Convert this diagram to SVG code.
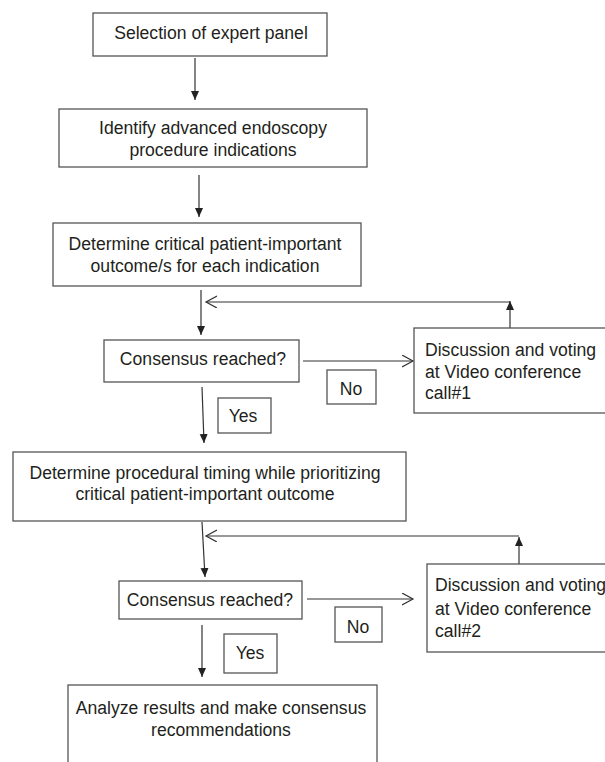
<svg xmlns="http://www.w3.org/2000/svg" width="605" height="762" viewBox="0 0 605 762">
<style>
.box{fill:#fff;stroke:#555;stroke-width:1.3}
.t{font-family:"Liberation Sans",Arial,sans-serif;font-size:17.6px;fill:#231f20}
.m{text-anchor:middle}
.ln{fill:none;stroke:#333;stroke-width:1.2}
</style>
<defs>
<marker id="fa" markerUnits="userSpaceOnUse" markerWidth="10" markerHeight="10" refX="9" refY="4" orient="auto"><path d="M0,0 L9,4 L0,8 z" fill="#222"/></marker>
<marker id="oa" markerUnits="userSpaceOnUse" markerWidth="14" markerHeight="14" refX="11" refY="6" orient="auto"><path d="M0,0 L11,6 L0,12" fill="none" stroke="#333" stroke-width="1.2"/></marker>
</defs>
<rect width="605" height="762" fill="#fff"/>
<g id="connectors">
<line class="ln" x1="195" y1="58" x2="195" y2="100" marker-end="url(#fa)"/>
<line class="ln" x1="199" y1="175" x2="199" y2="217" marker-end="url(#fa)"/>
<line class="ln" x1="201" y1="290" x2="201" y2="335" marker-end="url(#fa)"/>
<line class="ln" x1="202" y1="387" x2="204" y2="443" marker-end="url(#fa)"/>
<line class="ln" x1="202" y1="522" x2="205" y2="577" marker-end="url(#fa)"/>
<line class="ln" x1="202" y1="625" x2="202" y2="677" marker-end="url(#fa)"/>
<line class="ln" x1="303" y1="361" x2="413" y2="361" marker-end="url(#oa)"/>
<line class="ln" x1="307" y1="599" x2="413" y2="599" marker-end="url(#oa)"/>
<line class="ln" x1="510" y1="328" x2="510" y2="301" marker-end="url(#fa)"/>
<line class="ln" x1="510" y1="302" x2="206" y2="302" marker-end="url(#oa)"/>
<line class="ln" x1="519" y1="564" x2="519" y2="537" marker-end="url(#fa)"/>
<line class="ln" x1="519" y1="536" x2="206" y2="536" marker-end="url(#oa)"/>
</g>
<g id="n1"><rect class="box" x="93" y="13" width="234" height="43"/><text class="t m" x="211" y="39">Selection of expert panel</text></g>
<g id="n2"><rect class="box" x="59" y="109" width="308" height="58"/><text class="t m" x="213" y="134">Identify advanced endoscopy</text><text class="t m" x="213" y="156">procedure indications</text></g>
<g id="n3"><rect class="box" x="53" y="223" width="308" height="63"/><text class="t m" x="205" y="250">Determine critical patient-important</text><text class="t m" x="205" y="272">outcome/s for each indication</text></g>
<g id="c1"><rect class="box" x="104" y="340" width="195" height="42"/><text class="t m" x="203" y="365">Consensus reached?</text></g>
<g id="d1"><rect class="box" x="414" y="328" width="196" height="85"/><text class="t" x="425" y="356">Discussion and voting</text><text class="t" x="425" y="378">at Video conference</text><text class="t" x="425" y="399">call#1</text></g>
<g id="no1"><rect class="box" x="327" y="370" width="49" height="34"/><text class="t m" x="351" y="395">No</text></g>
<g id="yes1"><rect class="box" x="218" y="398" width="53" height="35"/><text class="t m" x="243" y="422">Yes</text></g>
<g id="n4"><rect class="box" x="13" y="452" width="393" height="69"/><text class="t m" x="205" y="479">Determine procedural timing while prioritizing</text><text class="t m" x="205" y="500">critical patient-important outcome</text></g>
<g id="c2"><rect class="box" x="119" y="581" width="183" height="38"/><text class="t m" x="210" y="606">Consensus reached?</text></g>
<g id="d2"><rect class="box" x="427" y="564" width="183" height="88"/><text class="t" x="435" y="591">Discussion and voting</text><text class="t" x="435" y="615">at Video conference</text><text class="t" x="435" y="637">call#2</text></g>
<g id="no2"><rect class="box" x="335" y="607" width="47" height="35"/><text class="t m" x="358" y="633">No</text></g>
<g id="yes2"><rect class="box" x="224" y="634" width="53" height="39"/><text class="t m" x="250" y="659">Yes</text></g>
<g id="n5"><rect class="box" x="68" y="685" width="309" height="90"/><text class="t m" x="221" y="714">Analyze results and make consensus</text><text class="t m" x="221" y="736">recommendations</text></g>
</svg>
